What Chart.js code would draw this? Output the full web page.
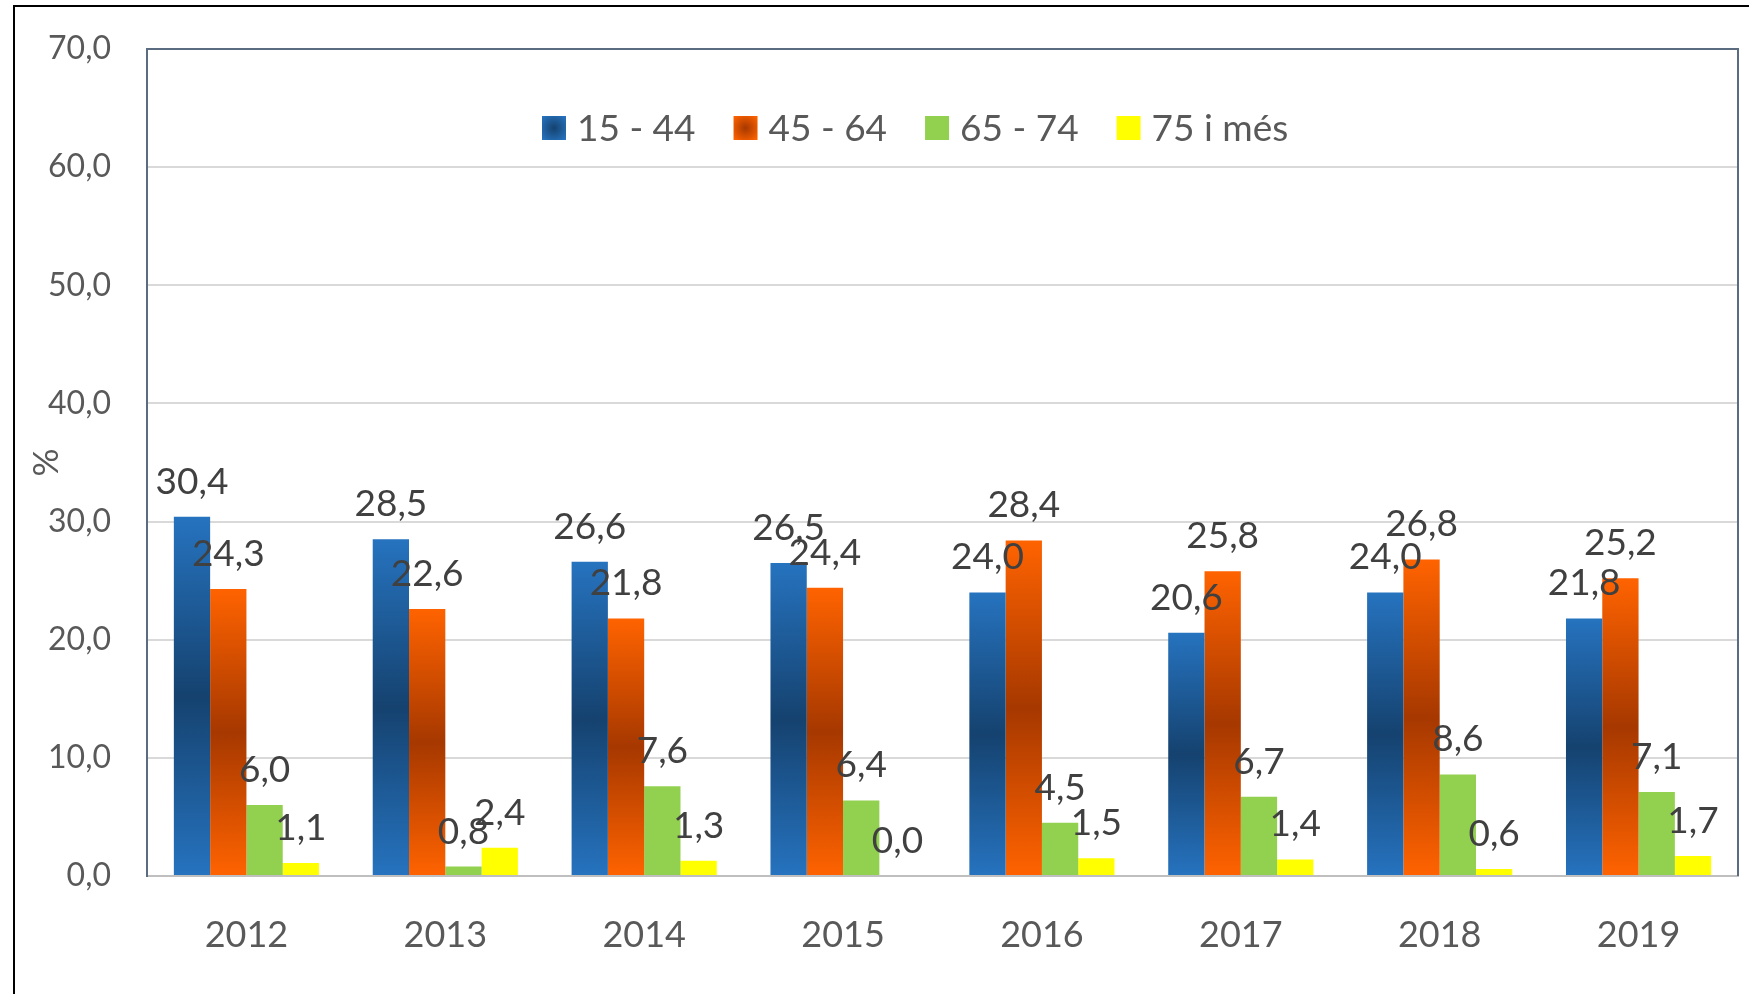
<!DOCTYPE html>
<html>
<head>
<meta charset="utf-8">
<script src="https://cdn.jsdelivr.net/npm/chart.js@4.4.1/dist/chart.umd.min.js"></script>
<style>
  html, body { margin: 0; padding: 0; background: #fff; }
  #wrap { width: 1749px; height: 994px; }
</style>
</head>
<body>
<div id="wrap"><canvas id="myChart" width="1749" height="994"></canvas></div>
<script>
const years = ['2012', '2013', '2014', '2015', '2016', '2017', '2018', '2019'];
const seriesNames = ['15 - 44', '45 - 64', '65 - 74', '75 i més'];
const age15_44 = [30.4, 28.5, 26.6, 26.5, 24.0, 20.6, 24.0, 21.8];
const age45_64 = [24.3, 22.6, 21.8, 24.4, 28.4, 25.8, 26.8, 25.2];
const age65_74 = [6.0, 0.8, 7.6, 6.4, 4.5, 6.7, 8.6, 7.1];
const age75plus = [1.1, 2.4, 1.3, 0.0, 1.5, 1.4, 0.6, 1.7];
const yMin = 0, yMax = 70, yStep = 10;

const FONT = 'Lato, "Open Sans", sans-serif';
const comma = v => Number(v).toFixed(1).replace('.', ',');

// light edge / dark middle, like the Excel path fill
const fills = [
  {light: '#2673bf', dark: '#15426f'},
  {light: '#ff6300', dark: '#a63800'},
  {light: '#92d050', dark: null},
  {light: '#ffff00', dark: null}
];

function barFill(f) {
  return (ctx) => {
    const chart = ctx.chart;
    if (!f.dark || !chart.chartArea || ctx.type !== 'data' || !ctx.parsed) return f.light;
    const y = chart.scales.y;
    const top = y.getPixelForValue(ctx.parsed.y);
    const base = y.getPixelForValue(0);
    if (base - top < 2) return f.light;
    const g = chart.ctx.createLinearGradient(0, top, 0, base);
    g.addColorStop(0, f.light);
    g.addColorStop(0.5, f.dark);
    g.addColorStop(1, f.light);
    return g;
  };
}

const frame = {
  id: 'frame',
  beforeDraw(chart) {
    const c = chart.ctx;
    c.save();
    c.strokeStyle = '#000';
    c.lineWidth = 2;
    c.beginPath();
    c.moveTo(14, chart.height);
    c.lineTo(14, 6);
    c.lineTo(chart.width, 6);
    c.stroke();
    c.restore();
  },
  afterDraw(chart) {
    const a = chart.chartArea, c = chart.ctx;
    c.save();
    c.strokeStyle = '#5b6b80';
    c.lineWidth = 2;
    c.beginPath();
    c.moveTo(a.left, a.top);
    c.lineTo(a.right, a.top);
    c.lineTo(a.right, a.bottom);
    c.stroke();
    c.restore();
  }
};

const valueLabels = {
  id: 'valueLabels',
  afterDatasetsDraw(chart) {
    const c = chart.ctx;
    c.save();
    c.font = '37px ' + FONT;
    c.fillStyle = '#404040';
    c.textAlign = 'center';
    c.textBaseline = 'alphabetic';
    chart.data.datasets.forEach((ds, i) => {
      chart.getDatasetMeta(i).data.forEach((bar, j) => {
        c.fillText(comma(ds.data[j]), bar.x, bar.y - 23);
      });
    });
    c.restore();
  }
};

const legendBox = {
  id: 'legendBox',
  afterDraw(chart) {
    const c = chart.ctx;
    c.save();
    c.font = '37px ' + FONT;
    c.textBaseline = 'middle';
    let x = 542;
    const y = 128;
    chart.data.datasets.forEach((ds, i) => {
      const f = fills[i];
      if (f.dark) {
        const g = c.createRadialGradient(x + 12, y, 0, x + 12, y, 16);
        g.addColorStop(0, f.dark);
        g.addColorStop(1, f.light);
        c.fillStyle = g;
      } else {
        c.fillStyle = f.light;
      }
      c.fillRect(x, y - 12, 24, 24);
      c.fillStyle = '#595959';
      c.fillText(ds.label, x + 35, y + 1);
      x += 35 + c.measureText(ds.label).width + 38;
    });
    c.restore();
  }
};

const myChart = new Chart(document.getElementById('myChart').getContext('2d'), {
  type: 'bar',
  data: {
    labels: years,
    datasets: [age15_44, age45_64, age65_74, age75plus].map((d, i) => ({
      label: seriesNames[i],
      data: d,
      backgroundColor: barFill(fills[i]),
      borderWidth: 0,
      categoryPercentage: 0.73,
      barPercentage: 1.0
    }))
  },
  options: {
    responsive: false,
    animation: false,
    devicePixelRatio: 1,
    layout: {padding: {top: 49, right: 11, left: 0, bottom: 0}},
    plugins: {
      legend: {display: false},
      tooltip: {enabled: false}
    },
    scales: {
      x: {
        grid: {display: false},
        border: {display: true, color: '#bfbfbf', width: 2},
        ticks: {color: '#595959', font: {family: FONT, size: 36}, padding: 30},
        afterFit(s) { s.height = 118; s.paddingLeft = 0; s.paddingRight = 0; }
      },
      y: {
        min: yMin,
        max: yMax,
        ticks: {
          stepSize: yStep,
          color: '#595959',
          font: {family: FONT, size: 32},
          padding: 36,
          callback: v => comma(v)
        },
        grid: {color: '#d9d9d9', lineWidth: 2, drawTicks: false},
        border: {color: '#5b6b80', width: 2},
        title: {
          display: true,
          text: '%',
          color: '#595959',
          font: {family: FONT, size: 35},
          padding: {top: 26, bottom: 0}
        },
        afterFit(s) { s.width = 147; s.paddingTop = 0; s.paddingBottom = 0; }
      }
    }
  },
  plugins: [frame, valueLabels, legendBox]
});
</script>
</body>
</html>
